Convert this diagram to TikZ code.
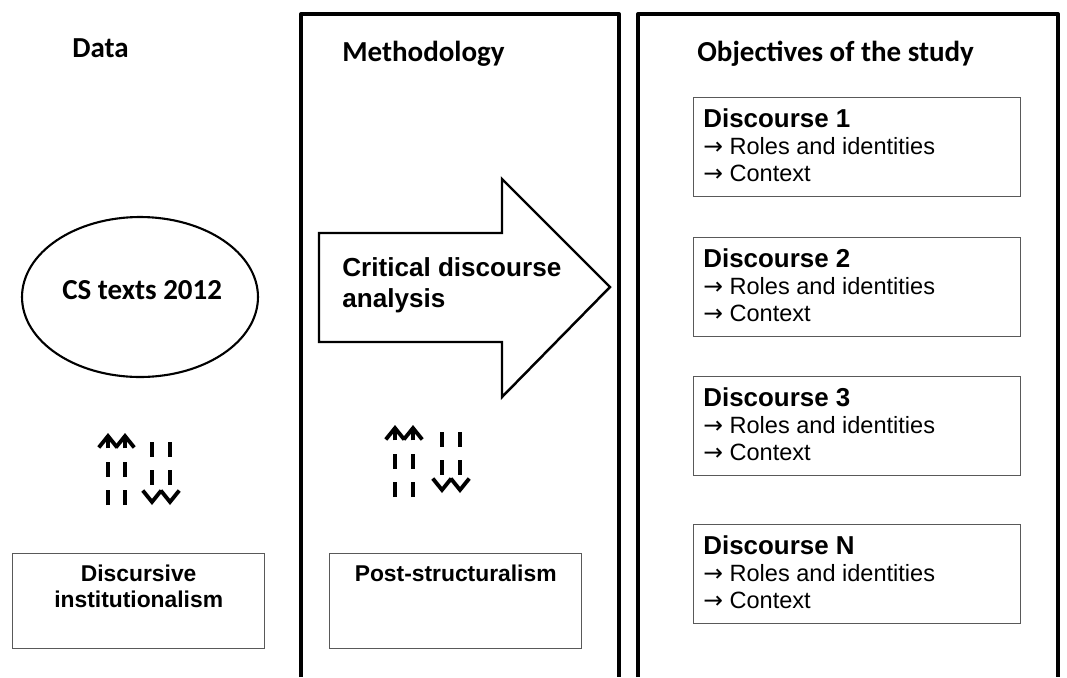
\documentclass[tikz,border=0pt]{standalone}
\usepackage{fontspec}
\setmainfont{Liberation Sans}
\newfontfamily\calibri{Carlito}
\newfontfamily\arrowfont{DejaVu Sans}
\usetikzlibrary{positioning, calc, shapes, arrows.meta}

\newcommand{\ra}{{\arrowfont →}}

\begin{document}
\begin{tikzpicture}[x=0.02cm, y=-0.02cm,
  panel/.style={line width=2.3pt, line join=round},
  heading/.style={anchor=base west, inner sep=0, font=\fontsize{16.5}{20}\selectfont\calibri\bfseries},
  framebox/.style={draw=black!65, line width=0.8pt, rectangle, minimum width=5.04cm, minimum height=1.9cm, anchor=north west, inner sep=0},
  discbox/.style={draw=black!65, line width=0.8pt, rectangle, minimum width=6.54cm, minimum height=1.98cm, anchor=north west, inner sep=0},
  disctext/.style={anchor=north west, inner sep=0, align=left, font=\fontsize{13.4}{15.2}\selectfont},
  boxtext/.style={anchor=north, inner sep=0, align=center, font=\fontsize{13}{14.8}\selectfont\bfseries},
  updown/.style={line width=2.2pt, dash pattern=on 8.5pt off 7.6pt, -{Straight Barb[length=6.5pt, width=10.5pt]}},
]
  \useasboundingbox (0,0) rectangle (1067,677);

  % the two framed columns, open at the bottom
  \draw[panel] (301,677) -- (301,14) -- (619,14) -- (619,677);
  \draw[panel] (638,677) -- (638,14) -- (1058,14) -- (1058,677);

  \node[heading] (data) at (72,57) {Data};
  \node[heading] (meth) at (342,61) {Methodology};
  \node[heading] (obj)  at (697,61) {Objectives of the study};

  % data column
  \node[draw, ellipse, line width=1.2pt, minimum width=4.72cm, minimum height=3.2cm, inner sep=0] (cs) at (140,297) {};
  \node[anchor=base west, inner sep=0, font=\fontsize{16.5}{20}\selectfont\calibri\bfseries] (cstext) at (62,299) {CS texts 2012};
  \node[framebox] (di) at (12,553) {};
  \node[boxtext] (ditext) at ([yshift=-0.24cm]di.north) {Discursive\\institutionalism};

  % methodology column
  \draw[line width=1.4pt, line join=miter]
    (319,233) coordinate (cdaback) -- (502,233) -- (502,179) -- (610,287) coordinate (cdatip)
    -- (502,397) -- (502,342) -- (319,342) -- cycle;
  \node[anchor=north west, inner sep=0, align=left, font=\fontsize{14.85}{17.6}\selectfont\bfseries] (cda) at (342,257) {Critical discourse\\analysis};
  \node[framebox] (ps) at (329,553) {};
  \node[boxtext] (pstext) at ([yshift=-0.24cm]ps.north) {Post-structuralism};

  % up and down dashed arrows
  \foreach \x/\s/\e [count=\k] in {108/505/433, 125/505/433, 152/442/505, 170/442/505,
                                   395/497/425, 413/497/425, 442/432/493, 460/432/493} {
    \coordinate (tail\k) at (\x,\s);
    \coordinate (head\k) at (\x,\e);
    \draw[updown] (tail\k) -- (head\k);
  }

  % objectives column
  \foreach \i/\top/\lab in {1/97/1, 2/237/2, 3/376/3, 4/524/N} {
    \node[discbox] (disc\i) at (693,\top) {};
    \node[disctext] (disctext\i) at ([shift={(0.2cm,-0.23cm)}]disc\i.north west)
      {{\fontsize{14.75}{15.2}\selectfont\bfseries Discourse \lab}\\\ra{} Roles and identities\\\ra{} Context};
  }
\end{tikzpicture}
\end{document}
